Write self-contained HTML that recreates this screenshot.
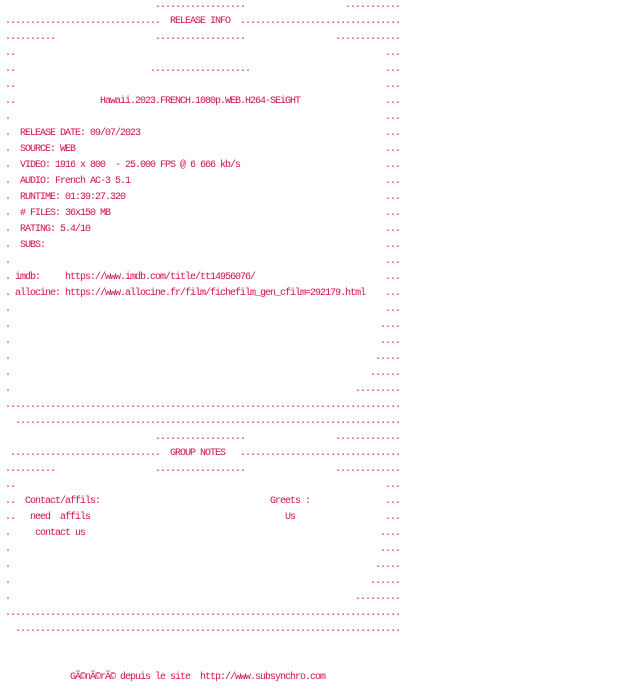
<!DOCTYPE html>
<html><head><meta charset="utf-8"><style>
html,body{margin:0;padding:0;background:#fff;width:640px;height:688px;overflow:hidden;position:relative}
#w{position:absolute;left:0;top:2px;width:640px;height:688px}
.s{position:absolute;white-space:pre;font-family:"Liberation Mono",monospace;font-size:10px;letter-spacing:-1px;line-height:16px;color:#d0104c}
</style></head><body><div id="w">
<div class="s" style="left:155px;top:-4px">..................</div><div class="s" style="left:345px;top:-4px">...........</div>
<div class="s" style="left:5px;top:12px">...............................  RELEASE INFO  ................................</div>
<div class="s" style="left:5px;top:28px">..........</div><div class="s" style="left:155px;top:28px">..................</div><div class="s" style="left:335px;top:28px">.............</div>
<div class="s" style="left:5px;top:44px">..</div><div class="s" style="left:385px;top:44px">...</div>
<div class="s" style="left:5px;top:60px">..</div><div class="s" style="left:150px;top:60px">....................</div><div class="s" style="left:385px;top:60px">...</div>
<div class="s" style="left:5px;top:76px">..</div><div class="s" style="left:385px;top:76px">...</div>
<div class="s" style="left:5px;top:92px">..</div><div class="s" style="left:100px;top:92px">Hawaii.2023.FRENCH.1080p.WEB.H264-SEiGHT</div><div class="s" style="left:385px;top:92px">...</div>
<div class="s" style="left:5px;top:108px">.</div><div class="s" style="left:385px;top:108px">...</div>
<div class="s" style="left:5px;top:124px">.  RELEASE DATE: 09/07/2023</div><div class="s" style="left:385px;top:124px">...</div>
<div class="s" style="left:5px;top:140px">.  SOURCE: WEB</div><div class="s" style="left:385px;top:140px">...</div>
<div class="s" style="left:5px;top:156px">.  VIDEO: 1916 x 800  - 25.000 FPS @ 6 666 kb/s</div><div class="s" style="left:385px;top:156px">...</div>
<div class="s" style="left:5px;top:172px">.  AUDIO: French AC-3 5.1</div><div class="s" style="left:385px;top:172px">...</div>
<div class="s" style="left:5px;top:188px">.  RUNTIME: 01:39:27.320</div><div class="s" style="left:385px;top:188px">...</div>
<div class="s" style="left:5px;top:204px">.  # FILES: 36x150 MB</div><div class="s" style="left:385px;top:204px">...</div>
<div class="s" style="left:5px;top:220px">.  RATING: 5.4/10</div><div class="s" style="left:385px;top:220px">...</div>
<div class="s" style="left:5px;top:236px">.  SUBS:</div><div class="s" style="left:385px;top:236px">...</div>
<div class="s" style="left:5px;top:252px">.</div><div class="s" style="left:385px;top:252px">...</div>
<div class="s" style="left:5px;top:268px">. imdb:     https://www.imdb.com/title/tt14956076/</div><div class="s" style="left:385px;top:268px">...</div>
<div class="s" style="left:5px;top:284px">. allocine: https://www.allocine.fr/film/fichefilm_gen_cfilm=292179.html</div><div class="s" style="left:385px;top:284px">...</div>
<div class="s" style="left:5px;top:300px">.</div><div class="s" style="left:385px;top:300px">...</div>
<div class="s" style="left:5px;top:316px">.</div><div class="s" style="left:380px;top:316px">....</div>
<div class="s" style="left:5px;top:332px">.</div><div class="s" style="left:380px;top:332px">....</div>
<div class="s" style="left:5px;top:348px">.</div><div class="s" style="left:375px;top:348px">.....</div>
<div class="s" style="left:5px;top:364px">.</div><div class="s" style="left:370px;top:364px">......</div>
<div class="s" style="left:5px;top:380px">.</div><div class="s" style="left:355px;top:380px">.........</div>
<div class="s" style="left:5px;top:396px">...............................................................................</div>
<div class="s" style="left:15px;top:412px">.............................................................................</div>
<div class="s" style="left:155px;top:428px">..................</div><div class="s" style="left:335px;top:428px">.............</div>
<div class="s" style="left:10px;top:444px">..............................  GROUP NOTES   ................................</div>
<div class="s" style="left:5px;top:460px">..........</div><div class="s" style="left:155px;top:460px">..................</div><div class="s" style="left:335px;top:460px">.............</div>
<div class="s" style="left:5px;top:476px">..</div><div class="s" style="left:385px;top:476px">...</div>
<div class="s" style="left:5px;top:492px">..  Contact/affils:</div><div class="s" style="left:270px;top:492px">Greets :</div><div class="s" style="left:385px;top:492px">...</div>
<div class="s" style="left:5px;top:508px">..   need  affils</div><div class="s" style="left:285px;top:508px">Us</div><div class="s" style="left:385px;top:508px">...</div>
<div class="s" style="left:5px;top:524px">.     contact us</div><div class="s" style="left:380px;top:524px">....</div>
<div class="s" style="left:5px;top:540px">.</div><div class="s" style="left:380px;top:540px">....</div>
<div class="s" style="left:5px;top:556px">.</div><div class="s" style="left:375px;top:556px">.....</div>
<div class="s" style="left:5px;top:572px">.</div><div class="s" style="left:370px;top:572px">......</div>
<div class="s" style="left:5px;top:588px">.</div><div class="s" style="left:355px;top:588px">.........</div>
<div class="s" style="left:5px;top:604px">...............................................................................</div>
<div class="s" style="left:15px;top:620px">.............................................................................</div>
<div class="s" style="left:70px;top:668px">GÃ©nÃ©rÃ© depuis le site  http://www.subsynchro.com</div>
</div></body></html>
